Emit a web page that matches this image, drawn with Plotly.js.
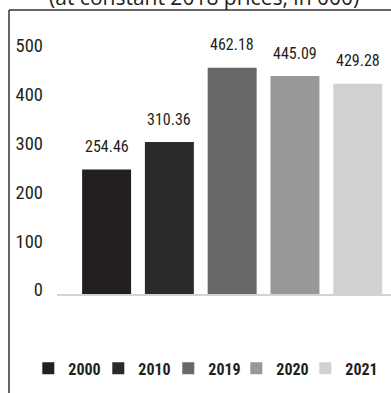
<!DOCTYPE html>
<html>
<head>
<meta charset="utf-8">
<script src="https://cdn.plot.ly/plotly-3.0.1.min.js"></script>
<style>html,body{margin:0;padding:0;background:#fff;}#chart{width:391px;height:393px;}</style>
</head>
<body>
<div id="chart"></div>
<script>
const years = ["2000", "2010", "2019", "2020", "2021"];
const values = [254.46, 310.36, 462.18, 445.09, 429.28];
const valueLabels = ["254.46", "310.36", "462.18", "445.09", "429.28"];
const colors = ["#231f20", "#2b292a", "#686769", "#98989b", "#d0d1d3"];
const yTicks = [0, 100, 200, 300, 400, 500];
const titleText = "(at constant 2018 prices, in 000)";

const numFont = "'Roboto Condensed', 'DejaVu Sans Condensed', Roboto, sans-serif";

const legendIds = years.map((yr, i) => i === 0 ? "legend" : "legend" + (i + 1));

const traces = years.map((yr, i) => ({
  type: "bar",
  name: yr,
  x: [yr],
  y: [values[i]],
  marker: {color: colors[i], line: {width: 0}},
  legend: legendIds[i],
  hoverinfo: "none"
}));

const annotations = years.map((yr, i) => ({
  x: i, y: values[i], xref: "x", yref: "y",
  text: valueLabels[i], showarrow: false,
  xanchor: "center", yanchor: "middle", yshift: 23,
  font: {family: numFont, size: 16, color: "#231f20"}
}));

const legendFont = {family: numFont, size: 16, color: "#231f20", weight: "bold"};

const plotLeft = 57, plotWidth = 334;
const legendLeftPx = [28.3, 98.3, 168.3, 236.3, 305.3];

const layout = {
  width: 391, height: 393,
  margin: {l: plotLeft, r: 0, t: 10, b: 99, pad: 0},
  paper_bgcolor: "#fff", plot_bgcolor: "#fff",
  barmode: "overlay",
  bargap: 0.22,
  showlegend: true,
  title: {
    text: titleText,
    font: {family: "'Open Sans', sans-serif", size: 21, color: "#231f20"},
    x: 0.522, xref: "container", xanchor: "center",
    y: 1 - 5/393, yref: "container", yanchor: "bottom"
  },
  xaxis: {
    type: "category",
    categoryorder: "array", categoryarray: years,
    range: [-0.79, 4.53],
    showticklabels: false, ticks: "",
    showgrid: false, zeroline: false,
    showline: true, linecolor: "#d3d3d3", linewidth: 2,
    fixedrange: true
  },
  yaxis: {
    range: [0, 580],
    tickvals: yTicks,
    ticktext: yTicks.map(String),
    ticks: "",
    showgrid: false, zeroline: false, showline: false,
    ticklabelstandoff: 13,
    ticklabelshift: -4,
    tickfont: {family: numFont, size: 18.5, color: "#231f20", weight: 400},
    fixedrange: true
  },
  annotations: annotations,
  shapes: [
    {type: "line", xref: "paper", yref: "paper", x0: -0.1437, x1: 1.01, y0: 1, y1: 1,
     line: {color: "#333", width: 1.5}},
    {type: "line", xref: "paper", yref: "paper", x0: -0.1437, x1: -0.1437, y0: 1, y1: -0.4,
     line: {color: "#333", width: 1.5}}
  ]
};

legendIds.forEach((id, i) => {
  layout[id] = {
    orientation: "h",
    x: (legendLeftPx[i] - plotLeft) / plotWidth, xanchor: "left",
    y: -0.262, yanchor: "middle",
    font: legendFont,
    bgcolor: "rgba(0,0,0,0)",
    itemclick: false, itemdoubleclick: false
  };
});

Plotly.newPlot("chart", traces, layout, {displayModeBar: false, staticPlot: true});
</script>
</body>
</html>
